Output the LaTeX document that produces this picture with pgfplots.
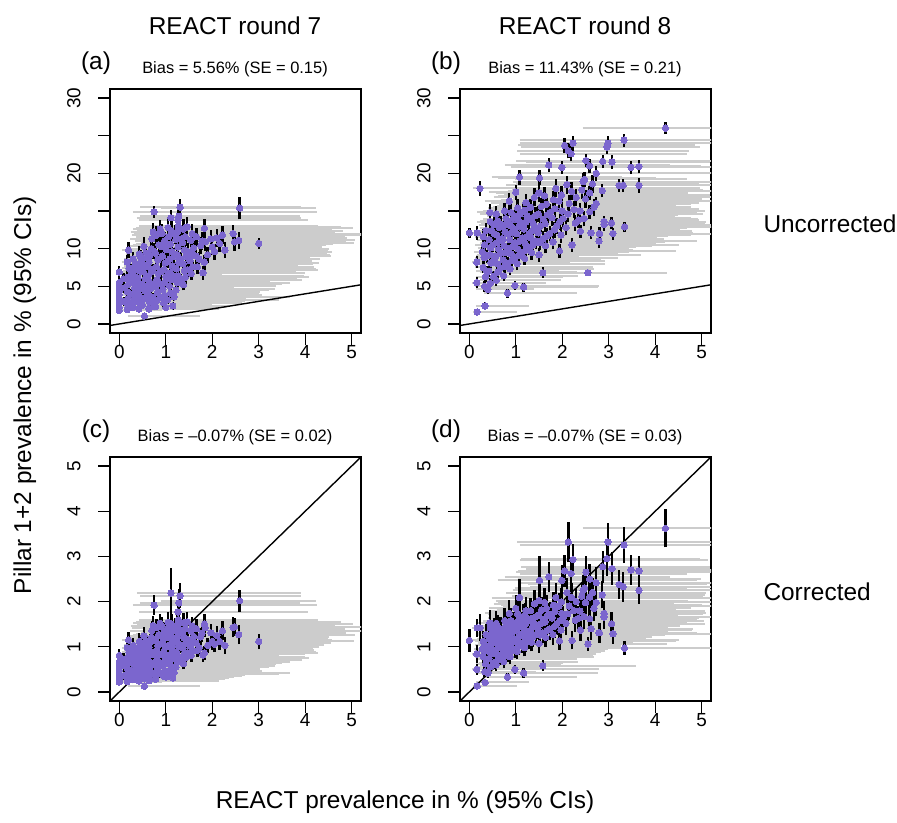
\documentclass[border=0pt]{standalone}
\usepackage{pgfplots}
\usepackage{pgfplotstable}
\pgfplotsset{compat=1.18}
\usepackage{fontspec}
\setmainfont{Liberation Sans}
\definecolor{pts}{RGB}{123,102,206}
\definecolor{barg}{RGB}{204,204,204}

% REACT round 7: x = REACT prevalence, xm/xp = CI minus/plus,
% yu/eu = uncorrected pillar prevalence and half CI, yc/ec = corrected
\pgfplotstableread{
x xm xp yu eu yc ec
0 0 0.55 1.8 0.45 0.22 0.08
0 0 0.7 2.2 0.5 0.27 0.09
0 0 0.9 2.7 0.55 0.34 0.1
0 0 0.6 3.3 0.6 0.40 0.1
0 0 1.1 3.9 0.65 0.48 0.12
0 0 0.8 4.4 0.7 0.55 0.12
0 0 1.2 5.0 0.75 0.60 0.13
0 0 0.95 5.5 0.8 0.66 0.14
0 0 1.3 6.9 0.85 0.81 0.15
0.17 0.12 0.75 1.9 0.45 0.23 0.08
0.18 0.13 1.0 2.6 0.5 0.31 0.09
0.19 0.13 0.9 3.4 0.6 0.42 0.11
0.17 0.12 1.3 4.3 0.7 0.52 0.12
0.20 0.14 1.1 5.3 0.8 0.64 0.13
0.18 0.12 1.5 6.2 0.85 0.75 0.14
0.21 0.15 1.2 7.4 0.95 0.88 0.16
0.17 0.12 1.6 8.2 1.0 0.98 0.17
0.20 0.14 1.4 9.8 1.1 1.15 0.18
0.30 0.2 1.1 2.2 0.5 0.27 0.08
0.32 0.21 1.4 3.0 0.55 0.37 0.1
0.30 0.2 1.2 3.8 0.65 0.46 0.11
0.33 0.22 1.7 4.8 0.75 0.58 0.12
0.31 0.21 1.5 5.6 0.8 0.68 0.13
0.30 0.2 1.9 6.6 0.9 0.79 0.15
0.34 0.23 1.6 7.7 0.95 0.93 0.16
0.30 0.2 2.1 8.6 1.0 1.03 0.17
0.42 0.28 1.3 2.0 0.45 0.24 0.08
0.40 0.27 1.6 2.9 0.55 0.35 0.1
0.43 0.29 1.4 3.7 0.6 0.45 0.11
0.41 0.27 1.9 4.5 0.7 0.55 0.12
0.44 0.3 1.7 5.3 0.8 0.64 0.13
0.40 0.27 2.2 6.1 0.85 0.73 0.14
0.45 0.3 1.8 7.0 0.9 0.84 0.15
0.42 0.28 2.4 8.0 1.0 0.96 0.17
0.46 0.31 2.0 8.8 1.0 1.05 0.17
0.43 0.29 2.6 9.3 1.1 1.12 0.18
0.54 0.36 1.2 1.06 0.4 0.13 0.06
0.50 0.33 1.5 2.5 0.5 0.30 0.09
0.52 0.35 1.8 3.4 0.6 0.41 0.1
0.55 0.37 2.1 4.4 0.7 0.53 0.12
0.50 0.33 1.9 5.2 0.75 0.63 0.13
0.56 0.37 2.4 6.0 0.85 0.72 0.14
0.52 0.35 2.2 6.9 0.9 0.83 0.15
0.55 0.37 2.7 7.8 1.0 0.94 0.16
0.50 0.33 2.5 8.6 1.0 1.04 0.17
0.57 0.38 2.9 9.4 1.1 1.13 0.18
0.53 0.35 2.6 10.3 1.2 1.24 0.19
0.64 0.42 1.5 2.0 0.45 0.25 0.08
0.66 0.44 1.8 2.8 0.55 0.34 0.09
0.63 0.42 2.0 3.9 0.65 0.47 0.11
0.67 0.44 2.3 4.7 0.7 0.57 0.12
0.65 0.43 2.6 5.6 0.8 0.67 0.13
0.62 0.41 2.4 6.4 0.85 0.77 0.14
0.68 0.45 2.9 7.3 0.95 0.88 0.16
0.64 0.42 2.7 8.2 1.0 0.99 0.17
0.66 0.44 3.2 9.1 1.05 1.10 0.18
0.69 0.46 3.0 10.0 1.1 1.21 0.19
0.70 0.46 3.4 11.3 1.2 1.36 0.2
0.75 0.46 3.5 14.9 0.8 1.92 0.22
0.78 0.52 1.5 2.3 0.5 0.28 0.08
0.80 0.53 1.9 3.1 0.55 0.38 0.1
0.82 0.54 2.2 4.2 0.65 0.51 0.11
0.79 0.52 2.5 5.0 0.75 0.61 0.12
0.81 0.54 2.8 5.9 0.8 0.71 0.14
0.84 0.56 2.6 6.7 0.9 0.81 0.15
0.80 0.53 3.1 7.6 0.95 0.92 0.16
0.83 0.55 2.9 8.5 1.0 1.03 0.17
0.78 0.52 3.3 9.4 1.1 1.14 0.18
0.85 0.56 3.1 10.5 1.15 1.27 0.19
0.80 0.53 3.6 11.8 1.2 1.42 0.2
0.88 0.58 3.4 12.6 1.25 1.52 0.21
0.95 0.63 1.7 2.8 0.55 0.35 0.09
0.98 0.65 2.1 3.8 0.6 0.47 0.1
0.94 0.62 2.4 4.6 0.7 0.57 0.12
0.97 0.64 2.7 5.5 0.8 0.67 0.13
1.00 0.66 3.0 6.3 0.85 0.77 0.14
0.96 0.63 2.8 7.2 0.9 0.88 0.15
0.99 0.65 3.3 8.1 1.0 0.99 0.17
0.93 0.61 3.1 9.0 1.05 1.10 0.18
1.01 0.67 3.5 9.9 1.1 1.21 0.19
0.97 0.64 3.2 11.0 1.2 1.34 0.2
1.00 0.66 1.3 2.2 0.5 0.33 0.08
1.15 0.76 1.2 2.4 0.5 0.31 0.08
1.10 0.73 1.9 4.1 0.65 0.50 0.11
1.08 0.71 2.3 5.0 0.75 0.61 0.12
1.12 0.74 2.6 5.9 0.8 0.72 0.14
1.10 0.73 2.9 6.8 0.9 0.83 0.15
1.14 0.75 2.7 7.7 0.95 0.94 0.16
1.09 0.72 3.2 8.6 1.0 1.05 0.17
1.13 0.75 3.0 9.6 1.1 1.17 0.18
1.10 0.73 3.5 10.6 1.15 1.29 0.19
1.06 0.70 3.3 11.6 1.2 1.41 0.2
1.12 0.74 3.7 12.4 1.3 1.51 0.22
1.11 0.73 2.8 14.1 1.0 2.19 0.55
1.22 0.8 2.0 4.5 0.7 0.55 0.12
1.25 0.82 2.4 5.5 0.8 0.67 0.13
1.27 0.84 2.7 6.4 0.85 0.78 0.14
1.23 0.81 3.0 7.3 0.95 0.89 0.15
1.28 0.84 2.8 8.2 1.0 1.00 0.17
1.24 0.82 3.3 9.2 1.05 1.12 0.18
1.26 0.83 3.1 10.2 1.1 1.24 0.19
1.22 0.8 3.6 11.2 1.2 1.36 0.2
1.25 0.82 3.4 12.2 1.25 1.48 0.22
1.27 0.84 3.0 13.0 1.3 1.60 0.23
1.26 0.83 2.8 13.8 1.3 1.77 0.25
1.28 0.84 2.6 14.3 1.2 1.97 0.3
1.31 0.86 2.6 15.5 1.1 2.13 0.28
1.38 0.91 1.7 5.2 0.75 0.63 0.13
1.42 0.94 2.1 6.2 0.85 0.75 0.14
1.40 0.92 2.4 7.1 0.9 0.86 0.15
1.37 0.9 2.8 8.0 1.0 0.97 0.16
1.43 0.94 2.6 9.0 1.05 1.09 0.18
1.40 0.92 3.1 9.8 1.1 1.19 0.19
1.36 0.9 2.9 10.8 1.15 1.31 0.2
1.42 0.94 3.4 11.6 1.2 1.41 0.21
1.38 0.91 3.2 12.6 1.3 1.53 0.22
1.55 1.02 1.8 6.7 0.85 0.81 0.14
1.58 1.04 2.2 7.6 0.95 0.92 0.15
1.52 1.0 2.5 8.4 1.0 1.02 0.17
1.56 1.03 2.9 9.3 1.05 1.13 0.18
1.60 1.06 2.7 10.1 1.1 1.23 0.19
1.54 1.02 3.2 11.1 1.2 1.35 0.2
1.57 1.04 3.0 12.0 1.25 1.46 0.21
1.72 1.14 2.0 8.6 1.0 0.98 0.17
1.75 1.16 2.6 10.4 1.1 1.22 0.19
1.78 1.17 3.1 11.0 1.2 1.30 0.2
1.80 1.19 1.6 6.8 0.9 0.82 0.15
1.83 1.21 2.3 8.2 1.0 0.86 0.16
1.85 1.22 2.9 10.9 1.15 1.42 0.2
1.83 1.21 3.2 12.7 1.3 1.50 0.22
1.90 1.25 2.5 9.2 1.05 1.03 0.17
1.97 1.3 2.7 11.3 1.2 1.31 0.2
2.00 1.32 2.3 10.2 1.1 1.12 0.19
2.05 1.35 2.0 9.6 1.05 1.06 0.18
2.10 1.39 2.8 11.4 1.2 1.25 0.2
2.16 1.43 2.4 10.7 1.15 1.12 0.19
2.22 1.47 3.0 11.8 1.2 1.35 0.21
2.27 1.5 1.9 9.8 1.05 1.03 0.18
2.45 1.6 2.8 12.0 1.2 1.43 0.22
2.48 1.62 2.3 10.9 1.15 1.44 0.2
2.57 1.68 2.5 11.1 1.15 1.27 0.21
2.59 1.7 1.65 15.4 1.5 2.02 0.24
3.00 1.98 2.06 10.7 0.75 1.12 0.17
0.10 0.07 0.8 3.0 0.55 0.36 0.1
0.11 0.08 1.0 4.8 0.7 0.58 0.12
0.09 0.06 1.2 6.0 0.8 0.72 0.14
0.25 0.17 1.0 2.4 0.5 0.29 0.09
0.24 0.16 1.3 4.0 0.65 0.48 0.11
0.26 0.18 1.6 6.0 0.85 0.72 0.14
0.25 0.17 1.8 7.0 0.9 0.84 0.15
0.36 0.24 1.5 4.2 0.7 0.51 0.12
0.37 0.25 1.8 5.0 0.75 0.6 0.13
0.38 0.25 2.0 7.3 0.95 0.88 0.16
0.48 0.32 1.6 3.0 0.55 0.36 0.1
0.47 0.31 2.0 4.9 0.75 0.59 0.12
0.49 0.33 2.3 7.4 0.95 0.89 0.16
0.60 0.4 1.7 3.3 0.6 0.4 0.1
0.59 0.39 2.2 5.0 0.75 0.6 0.13
0.60 0.4 2.6 7.7 0.95 0.93 0.16
0.61 0.4 2.9 8.8 1.05 1.06 0.18
0.72 0.48 2.0 3.5 0.6 0.42 0.11
0.73 0.48 2.4 5.3 0.8 0.64 0.13
0.72 0.48 2.8 7.0 0.9 0.84 0.15
0.74 0.49 3.1 9.7 1.1 1.17 0.19
0.73 0.48 3.3 12.2 1.25 1.47 0.21
0.88 0.58 2.2 3.6 0.6 0.43 0.11
0.89 0.59 2.6 5.3 0.8 0.64 0.13
0.90 0.6 2.9 7.0 0.9 0.84 0.15
0.91 0.6 3.2 8.9 1.05 1.07 0.18
0.90 0.6 3.4 10.3 1.15 1.24 0.19
0.92 0.61 3.5 12.0 1.25 1.45 0.21
1.04 0.69 2.4 3.2 0.55 0.39 0.1
1.03 0.68 2.8 6.0 0.8 0.72 0.14
1.05 0.69 3.1 8.4 1.0 1.01 0.17
1.04 0.69 3.4 10.5 1.15 1.27 0.19
1.05 0.69 3.6 12.8 1.3 1.54 0.22
1.18 0.78 2.5 3.6 0.6 0.43 0.11
1.19 0.79 2.9 6.3 0.85 0.76 0.14
1.18 0.78 3.2 9.0 1.05 1.08 0.18
1.20 0.79 3.4 11.9 1.25 1.43 0.21
1.33 0.88 2.6 5.8 0.8 0.7 0.13
1.32 0.87 3.0 8.6 1.0 1.04 0.17
1.33 0.88 3.3 11.3 1.2 1.36 0.2
1.47 0.97 2.8 7.2 0.9 0.87 0.15
1.48 0.98 3.1 9.6 1.1 1.16 0.18
1.46 0.96 3.3 12.9 1.3 1.55 0.22
1.65 1.09 2.9 9.0 1.05 1.08 0.18
1.66 1.1 3.2 11.6 1.2 1.4 0.21
1.68 1.11 2.5 7.6 0.95 0.92 0.15
}\rsev

% REACT round 8
\pgfplotstableread{
x xm xp yu eu yc ec
4.22 1.78 1.3 26.0 0.8 3.62 0.42
3.33 2.25 1.9 24.4 0.85 3.25 0.4
2.98 1.9 2.3 24.0 0.9 3.32 0.42
2.96 1.85 2.0 23.5 0.9 2.95 0.38
2.23 1.15 2.9 24.0 1.0 2.93 0.35
2.05 1.0 2.8 23.7 0.95 2.68 0.35
2.19 1.1 2.5 22.6 1.0 2.62 0.34
2.13 1.1 2.6 23.0 1.0 3.32 0.45
1.71 0.95 2.6 21.1 0.9 2.55 0.33
1.99 1.1 2.9 20.8 0.9 2.47 0.33
2.51 1.5 2.7 21.7 0.9 2.65 0.35
2.59 1.55 2.4 21.0 0.9 2.50 0.34
2.87 1.75 2.3 21.6 0.9 2.77 0.35
3.07 1.85 2.1 21.5 0.95 2.73 0.36
3.48 2.1 1.8 20.8 0.9 2.70 0.33
3.65 2.2 1.6 20.9 0.9 2.68 0.34
1.08 0.6 2.2 19.5 1.0 2.09 0.4
1.51 0.9 2.5 19.4 1.0 2.47 0.55
0.23 0.15 1.7 18.0 1.0 1.42 0.3
1.00 0.58 2.4 17.5 1.0 1.85 0.3
2.73 1.65 2.5 20.0 1.0 2.42 0.34
2.48 1.5 2.2 19.2 1.0 2.30 0.33
2.86 1.75 2.2 17.7 0.9 2.15 0.3
3.22 1.95 1.9 18.4 0.9 2.38 0.33
3.31 2.0 1.9 18.4 0.9 2.33 0.33
3.65 2.2 1.55 18.4 1.0 2.25 0.3
2.59 1.55 2.1 17.4 0.95 2.10 0.3
2.73 1.65 2.0 16.0 0.9 1.98 0.3
2.59 1.55 2.3 14.9 0.9 1.62 0.28
2.90 1.75 2.2 13.6 0.8 1.74 0.27
2.90 1.75 2.3 13.2 0.8 1.66 0.27
3.06 1.85 2.0 13.4 0.8 1.51 0.27
3.34 2.0 2.0 12.9 0.7 0.97 0.15
3.09 1.85 2.1 12.0 0.8 1.29 0.22
2.80 1.7 2.0 12.0 0.85 1.31 0.22
2.62 1.6 2.2 12.1 0.85 1.40 0.24
2.39 1.45 2.4 12.3 0.85 1.37 0.24
2.55 1.55 1.7 6.8 0.35 1.06 0.15
0.00 0 1.3 12.1 0.7 1.14 0.25
0.17 0.11 1.5 12.1 0.9 1.42 0.2
0.16 0.1 1.2 8.2 0.8 0.84 0.2
0.16 0.1 0.9 5.5 0.7 0.50 0.12
0.33 0.2 1.1 5.0 0.7 0.45 0.12
0.40 0.25 1.0 4.6 0.65 0.42 0.1
0.34 0.2 0.95 2.4 0.5 0.21 0.06
0.17 0.1 0.85 1.6 0.45 0.13 0.05
0.98 0.6 1.8 5.1 0.6 0.50 0.1
1.17 0.7 1.6 4.9 0.6 0.42 0.1
1.58 0.95 2.0 6.8 0.7 0.58 0.12
0.82 0.5 1.5 4.1 0.6 0.33 0.08
2.21 1.37 2.3 10.5 0.9 1.14 0.2
2.79 1.73 2.1 11.0 0.85 1.31 0.22
0.30 0.18 1.2 7.5 0.8 0.78 0.18
0.32 0.2 1.4 8.8 0.85 0.90 0.2
0.28 0.17 1.3 9.6 0.9 0.95 0.2
0.33 0.2 1.6 10.5 0.9 1.05 0.22
0.30 0.18 1.5 11.6 0.95 1.12 0.22
0.35 0.21 1.1 6.3 0.7 0.62 0.15
0.45 0.28 1.2 5.4 0.7 0.55 0.14
0.42 0.26 1.5 7.0 0.8 0.74 0.17
0.47 0.29 1.7 8.1 0.85 0.84 0.18
0.44 0.27 1.6 9.2 0.9 0.96 0.2
0.46 0.28 1.9 10.1 0.9 1.06 0.22
0.43 0.27 1.8 11.2 0.95 1.18 0.24
0.48 0.3 2.1 12.4 1.0 1.30 0.25
0.45 0.28 2.0 13.6 1.0 1.42 0.26
0.44 0.27 2.2 14.8 1.1 1.53 0.28
0.58 0.36 1.4 5.8 0.7 0.60 0.14
0.62 0.38 1.7 6.9 0.8 0.72 0.16
0.60 0.37 1.9 8.0 0.85 0.83 0.18
0.57 0.35 1.8 9.0 0.9 0.93 0.2
0.63 0.39 2.1 9.9 0.9 1.04 0.21
0.60 0.37 2.0 10.8 0.95 1.13 0.22
0.59 0.37 2.3 11.8 1.0 1.24 0.24
0.64 0.4 2.2 12.8 1.0 1.34 0.25
0.61 0.38 2.5 13.7 1.05 1.44 0.26
0.58 0.36 2.4 14.6 1.1 1.52 0.27
0.74 0.46 1.6 6.4 0.75 0.67 0.15
0.76 0.47 1.9 7.6 0.8 0.80 0.17
0.73 0.45 2.1 8.5 0.85 0.89 0.19
0.78 0.48 2.0 9.5 0.9 0.99 0.2
0.75 0.46 2.3 10.4 0.95 1.10 0.22
0.72 0.45 2.2 11.3 1.0 1.19 0.23
0.77 0.48 2.5 12.2 1.0 1.28 0.24
0.74 0.46 2.4 13.1 1.05 1.38 0.25
0.79 0.49 2.7 14.0 1.1 1.47 0.27
0.76 0.47 2.6 15.0 1.1 1.58 0.28
0.88 0.55 1.8 7.3 0.8 0.78 0.17
0.91 0.56 2.0 8.4 0.85 0.90 0.19
0.90 0.56 2.3 9.3 0.9 0.99 0.2
0.93 0.58 2.2 10.3 0.95 1.10 0.22
0.87 0.54 2.5 11.2 1.0 1.20 0.23
0.92 0.57 2.4 12.1 1.0 1.30 0.24
0.89 0.55 2.7 13.0 1.05 1.39 0.26
0.94 0.58 2.6 13.9 1.1 1.49 0.27
0.90 0.56 2.9 14.8 1.1 1.58 0.28
0.86 0.53 2.8 16.3 1.15 1.74 0.3
1.03 0.64 1.9 8.0 0.85 0.90 0.18
1.06 0.66 2.2 9.1 0.9 1.02 0.2
1.04 0.64 2.4 10.0 0.95 1.12 0.21
1.08 0.67 2.3 11.0 1.0 1.23 0.23
1.02 0.63 2.6 12.0 1.0 1.35 0.24
1.07 0.66 2.5 12.9 1.05 1.45 0.26
1.05 0.65 2.8 13.8 1.1 1.55 0.27
1.09 0.68 2.7 14.6 1.1 1.64 0.28
1.04 0.64 3.0 15.4 1.15 1.73 0.3
1.19 0.74 2.0 8.7 0.9 0.98 0.19
1.22 0.76 2.3 9.8 0.95 1.10 0.21
1.20 0.74 2.6 10.7 1.0 1.20 0.22
1.23 0.76 2.5 11.6 1.0 1.30 0.23
1.18 0.73 2.8 12.6 1.05 1.41 0.25
1.21 0.75 2.7 13.5 1.1 1.51 0.26
1.24 0.77 3.0 14.3 1.1 1.60 0.27
1.20 0.74 2.9 15.1 1.15 1.69 0.28
1.22 0.76 3.2 16.1 1.2 1.80 0.3
1.34 0.83 2.1 9.5 0.95 1.10 0.2
1.37 0.85 2.4 10.5 1.0 1.22 0.22
1.33 0.82 2.7 11.4 1.0 1.32 0.23
1.36 0.84 2.6 12.4 1.05 1.44 0.25
1.38 0.86 2.9 13.3 1.1 1.54 0.26
1.35 0.84 2.8 14.1 1.1 1.63 0.27
1.32 0.82 3.1 15.5 1.15 1.80 0.29
1.40 0.87 3.0 16.8 1.2 1.95 0.3
1.50 0.93 2.2 9.2 0.95 1.07 0.2
1.52 0.94 2.5 10.8 1.0 1.26 0.22
1.48 0.92 2.8 12.1 1.05 1.41 0.24
1.53 0.95 2.7 13.0 1.1 1.51 0.26
1.49 0.92 3.0 14.6 1.1 1.70 0.28
1.55 0.96 2.9 15.6 1.15 1.81 0.29
1.50 0.93 3.2 17.4 1.2 2.02 0.31
1.64 1.02 2.3 10.4 1.0 1.21 0.21
1.67 1.04 2.6 11.7 1.05 1.36 0.23
1.63 1.01 2.9 13.3 1.1 1.55 0.26
1.68 1.04 2.8 14.5 1.1 1.69 0.28
1.66 1.03 3.1 15.9 1.15 1.85 0.3
1.62 1.0 3.0 17.0 1.2 1.98 0.31
1.80 1.12 2.4 10.9 1.0 1.27 0.22
1.83 1.13 2.7 12.5 1.05 1.45 0.25
1.78 1.1 3.0 14.1 1.1 1.64 0.27
1.84 1.14 2.9 15.3 1.15 1.78 0.29
1.81 1.12 3.2 16.5 1.2 1.92 0.3
1.86 1.15 3.1 18.0 1.2 2.09 0.32
1.94 1.2 2.5 9.7 0.95 1.13 0.2
1.97 1.22 2.8 11.8 1.05 1.37 0.24
1.95 1.21 3.1 13.6 1.1 1.58 0.27
1.99 1.23 3.0 15.0 1.15 1.74 0.29
1.93 1.2 3.3 16.3 1.2 1.90 0.3
1.98 1.23 3.2 17.1 1.2 1.99 0.31
2.08 1.29 2.6 12.8 1.05 1.52 0.25
2.12 1.31 2.9 14.6 1.1 1.73 0.28
2.15 1.33 2.8 16.0 1.15 1.90 0.3
2.20 1.36 3.1 17.6 1.2 2.09 0.32
2.25 1.4 2.7 15.2 1.1 1.80 0.29
2.28 1.41 2.5 13.4 1.05 1.59 0.26
2.10 1.3 3.0 18.5 1.2 2.20 0.33
2.30 1.43 2.9 16.8 1.15 2.00 0.31
2.42 1.5 2.6 17.8 1.2 2.12 0.32
2.45 1.52 2.8 18.9 1.2 2.25 0.33
2.50 1.55 2.5 16.6 1.15 1.98 0.3
2.38 1.48 2.7 15.0 1.1 1.79 0.28
2.47 1.53 2.4 14.0 1.05 1.67 0.27
0.37 0.22 1.3 7.0 0.75 0.72 0.16
0.38 0.23 1.5 9.0 0.85 0.93 0.2
0.36 0.22 1.6 12.4 1.0 1.27 0.24
0.52 0.32 1.5 6.3 0.75 0.65 0.15
0.53 0.33 1.8 8.5 0.85 0.88 0.19
0.51 0.32 2.0 10.5 0.95 1.09 0.22
0.54 0.33 2.2 12.0 1.0 1.25 0.24
0.53 0.33 2.3 13.2 1.05 1.38 0.26
0.67 0.42 1.7 7.4 0.8 0.77 0.17
0.68 0.42 2.0 9.4 0.9 0.98 0.2
0.69 0.43 2.2 11.3 1.0 1.18 0.23
0.67 0.41 2.5 13.3 1.05 1.39 0.26
0.82 0.51 1.9 8.0 0.85 0.84 0.18
0.83 0.51 2.2 10.0 0.95 1.05 0.21
0.84 0.52 2.5 11.9 1.0 1.25 0.24
0.82 0.51 2.7 13.6 1.1 1.43 0.26
0.98 0.61 2.0 8.8 0.9 0.94 0.19
0.99 0.61 2.4 10.8 1.0 1.16 0.22
0.97 0.6 2.6 12.6 1.05 1.35 0.25
0.99 0.62 2.9 14.3 1.1 1.53 0.28
1.13 0.7 2.2 9.5 0.95 1.07 0.2
1.14 0.71 2.5 11.4 1.0 1.28 0.23
1.12 0.69 2.8 13.4 1.1 1.5 0.26
1.15 0.71 3.0 14.9 1.15 1.67 0.28
1.28 0.79 2.3 10.2 1.0 1.15 0.21
1.29 0.8 2.7 12.0 1.05 1.35 0.24
1.27 0.79 2.9 13.9 1.1 1.57 0.27
1.43 0.89 2.5 11.0 1.0 1.27 0.22
1.44 0.89 2.8 12.8 1.05 1.48 0.25
1.42 0.88 3.0 14.4 1.1 1.66 0.28
1.58 0.98 2.6 11.3 1.0 1.31 0.22
1.59 0.99 2.9 13.9 1.1 1.61 0.27
1.73 1.07 2.7 12.0 1.05 1.39 0.24
1.74 1.08 3.0 14.8 1.15 1.72 0.28
1.88 1.17 2.8 13.0 1.05 1.51 0.25
2.02 1.25 2.9 14.0 1.1 1.64 0.27
2.35 1.46 2.6 13.8 1.05 1.63 0.27
2.65 1.64 2.3 18.6 1.2 2.2 0.32
2.68 1.66 2.1 15.5 1.1 1.85 0.29
}\rei

% Build one segment list per bar set (from the table values) so that each
% set of bars is a single path: (lo) -- (hi), then a jump.
\newcommand\mkxbars[3]{%
  \gdef#3{}%
  \pgfplotstablegetrowsof{#1}%
  \pgfmathtruncatemacro\nr{\pgfplotsretval-1}%
  \pgfplotsforeachungrouped \i in {0,...,\nr}{%
    \pgfplotstablegetelem{\i}{x}\of{#1}\let\vx\pgfplotsretval
    \pgfplotstablegetelem{\i}{xm}\of{#1}\let\vm\pgfplotsretval
    \pgfplotstablegetelem{\i}{xp}\of{#1}\let\vp\pgfplotsretval
    \pgfplotstablegetelem{\i}{#2}\of{#1}\let\vy\pgfplotsretval
    \pgfmathsetmacro\lo{\vx-\vm}%
    \pgfmathsetmacro\hi{\vx+\vp}%
    \xdef#3{#3(\lo,\vy)(\hi,\vy)(nan,nan)}%
  }}
\newcommand\mkybars[4]{%
  \gdef#4{}%
  \pgfplotstablegetrowsof{#1}%
  \pgfmathtruncatemacro\nr{\pgfplotsretval-1}%
  \pgfplotsforeachungrouped \i in {0,...,\nr}{%
    \pgfplotstablegetelem{\i}{x}\of{#1}\let\vx\pgfplotsretval
    \pgfplotstablegetelem{\i}{#2}\of{#1}\let\vy\pgfplotsretval
    \pgfplotstablegetelem{\i}{#3}\of{#1}\let\ve\pgfplotsretval
    \pgfmathsetmacro\lo{\vy-\ve}%
    \pgfmathsetmacro\hi{\vy+\ve}%
    \xdef#4{#4(\vx,\lo)(\vx,\hi)(nan,nan)}%
  }}
\mkxbars{\rsev}{yu}{\xbAu}
\mkxbars{\rsev}{yc}{\xbAc}
\mkxbars{\rei}{yu}{\xbBu}
\mkxbars{\rei}{yc}{\xbBc}
\mkybars{\rsev}{yu}{eu}{\ybAu}
\mkybars{\rsev}{yc}{ec}{\ybAc}
\mkybars{\rei}{yu}{eu}{\ybBu}
\mkybars{\rei}{yc}{ec}{\ybBc}

\pgfplotsset{
  panel/.style={
    scale only axis, width=251bp, height=244bp,
    xmin=-0.2, xmax=5.2, clip=true,
    axis line style={line width=1.4bp},
    tick align=outside, major tick length=12bp,
    xtick pos=bottom, ytick pos=left,
    xtick={0,1,2,3,4,5},
    every tick/.append style={black, line width=1.4bp},
    tick label style={font=\fontsize{19}{21}\selectfont},
    /pgf/number format/assume math mode=true,
    xticklabel style={yshift=3bp},
    yticklabel style={rotate=90, anchor=south, yshift=14bp},
    unbounded coords=jump,
  },
  uncorr/.style={ymin=-1.2, ymax=31.2, ytick={0,5,10,15,20,25,30}, yticklabels={0,5,10,,20,,30}},
  corr/.style={ymin=-0.2, ymax=5.2, ytick={0,1,2,3,4,5}},
}

\newcommand\segplot[2]{\edef\tmp{\noexpand\addplot[#1] coordinates {#2};}\tmp}

\newcommand\drawpanel[5]{%
  \segplot{draw=barg, line width=2bp, mark=none}{#4}%
  \segplot{draw=black, line width=2.4bp, mark=none}{#5}%
  \addplot[only marks, mark=*, mark size=3.2bp, color=pts, mark options={draw=pts, fill=pts, line width=0pt}]
    table[x=x, y=#2]{#1};
  \addplot[black, line width=1.4bp, mark=none] coordinates {(-0.2,-0.2) (5.2,5.2)};
}

\begin{document}
\begin{tikzpicture}[x=1bp, y=1bp]
\path[use as bounding box] (0,0) rectangle (897,823);

\begin{axis}[panel, uncorr, at={(110bp,490bp)}, anchor=south west]
\drawpanel{\rsev}{yu}{eu}{\xbAu}{\ybAu}
\end{axis}
\begin{axis}[panel, uncorr, at={(460bp,490bp)}, anchor=south west]
\drawpanel{\rei}{yu}{eu}{\xbBu}{\ybBu}
\end{axis}
\begin{axis}[panel, corr, at={(110bp,122bp)}, anchor=south west]
\drawpanel{\rsev}{yc}{ec}{\xbAc}{\ybAc}
\end{axis}
\begin{axis}[panel, corr, at={(460bp,122bp)}, anchor=south west]
\drawpanel{\rei}{yc}{ec}{\xbBc}{\ybBc}
\end{axis}

\def\big{\fontsize{24.5}{28}\selectfont}
\def\sm{\fontsize{16.5}{19}\selectfont}
\node[anchor=base] at (235,788) {\big REACT round 7};
\node[anchor=base] at (585,788) {\big REACT round 8};
\node[anchor=base] at (96,753) {\big (a)};
\node[anchor=base] at (446,753) {\big (b)};
\node[anchor=base] at (96,385) {\big (c)};
\node[anchor=base] at (446,385) {\big (d)};
\node[anchor=base] at (235,749) {\sm Bias = 5.56\% (SE = 0.15)};
\node[anchor=base] at (585,749) {\sm Bias = 11.43\% (SE = 0.21)};
\node[anchor=base] at (235,381) {\sm Bias = \textendash0.07\% (SE = 0.02)};
\node[anchor=base] at (585,381) {\sm Bias = \textendash0.07\% (SE = 0.03)};
\node[anchor=base west] at (760,590) {\big Uncorrected};
\node[anchor=base west] at (760,222) {\big Corrected};
\node[anchor=base, rotate=90] at (31,428) {\big Pillar 1+2 prevalence in \% (95\% CIs)};
\node[anchor=base] at (405,14) {\big REACT prevalence in \% (95\% CIs)};
\end{tikzpicture}
\end{document}
